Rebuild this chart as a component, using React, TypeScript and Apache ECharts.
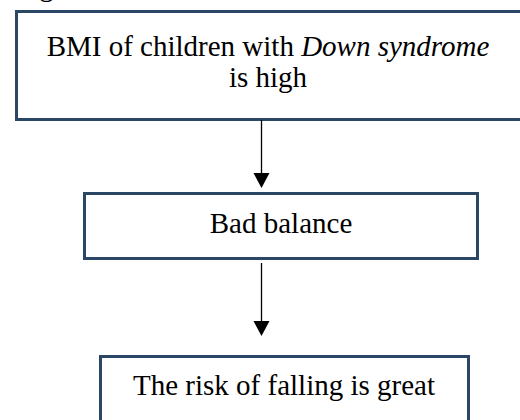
import React, { useEffect, useRef } from "react";
import * as echarts from "echarts";

const steps = ["BMI of children with |Down syndrome|\nis high", "Bad balance", "The risk of falling is great"];
const caption = "Figure";

const FONT = "Liberation Serif";
const SIZE = 29;
const LINE_H = 31;
const BORDER = "#2b4766";

function measure(text: string, italic: boolean) {
  const c = document.createElement("canvas").getContext("2d")!;
  c.font = `${italic ? "italic " : ""}${SIZE}px "${FONT}"`;
  return c.measureText(text).width;
}

function textElements(s: string, cx: number, cy: number) {
  const lines = s.split("\n");
  const out: any[] = [];
  const top = cy - ((lines.length - 1) * LINE_H) / 2;
  lines.forEach((line, li) => {
    const segs = line.split("|").map((t, i) => ({ t, italic: i % 2 === 1 })).filter((g) => g.t);
    const widths = segs.map((g) => measure(g.t, g.italic));
    const total = widths.reduce((a, b) => a + b, 0);
    let x = cx - total / 2;
    segs.forEach((g, gi) => {
      out.push({
        type: "text",
        x,
        y: top + li * LINE_H,
        style: {
          text: g.t,
          fontFamily: FONT,
          fontSize: SIZE,
          fontStyle: g.italic ? "italic" : "normal",
          fill: "#000",
          align: "left",
          verticalAlign: "middle",
        },
      });
      x += widths[gi];
    });
  });
  return out;
}

export default function App() {
  const ref = useRef<HTMLDivElement>(null);
  useEffect(() => {
    if (!ref.current) return;
    const chart = echarts.init(ref.current, undefined, { renderer: "svg" });
    const boxes = [
      { x: 16.5, y: 11.5, w: 540, h: 108, cx: 268, cy: 61 },
      { x: 84.5, y: 193.5, w: 393, h: 65, cx: 281, cy: 223 },
      { x: 100.5, y: 356.5, w: 368, h: 100, cx: 284, cy: 385 },
    ];
    const arrows = [
      { x: 261.5, y1: 120, y2: 188 },
      { x: 261.5, y1: 263, y2: 336 },
    ];
    const elements: any[] = [
      {
        type: "text",
        left: 15,
        top: -29,
        style: { text: caption, fontFamily: FONT, fontSize: SIZE, fill: "#000" },
      },
    ];
    boxes.forEach((b, k) => {
      elements.push({
        type: "rect",
        shape: { x: b.x, y: b.y, width: b.w, height: b.h },
        style: { fill: "#fff", stroke: BORDER, lineWidth: 3 },
      });
      elements.push(...textElements(steps[k], b.cx, b.cy));
    });
    arrows.forEach((a) => {
      elements.push({
        type: "line",
        shape: { x1: a.x, y1: a.y1, x2: a.x, y2: a.y2 - 14 },
        style: { stroke: "#000", lineWidth: 1.3 },
      });
      elements.push({
        type: "polygon",
        shape: { points: [[a.x - 8, a.y2 - 15], [a.x + 8, a.y2 - 15], [a.x, a.y2]] },
        style: { fill: "#000" },
      });
    });
    chart.setOption({
      animation: false,
      backgroundColor: "#fff",
      graphic: { elements },
    });
    return () => chart.dispose();
  }, []);
  return (
    <div
      ref={ref}
      style={{ position: "fixed", left: 0, top: 0, width: 520, height: 420, background: "#fff" }}
    />
  );
}
